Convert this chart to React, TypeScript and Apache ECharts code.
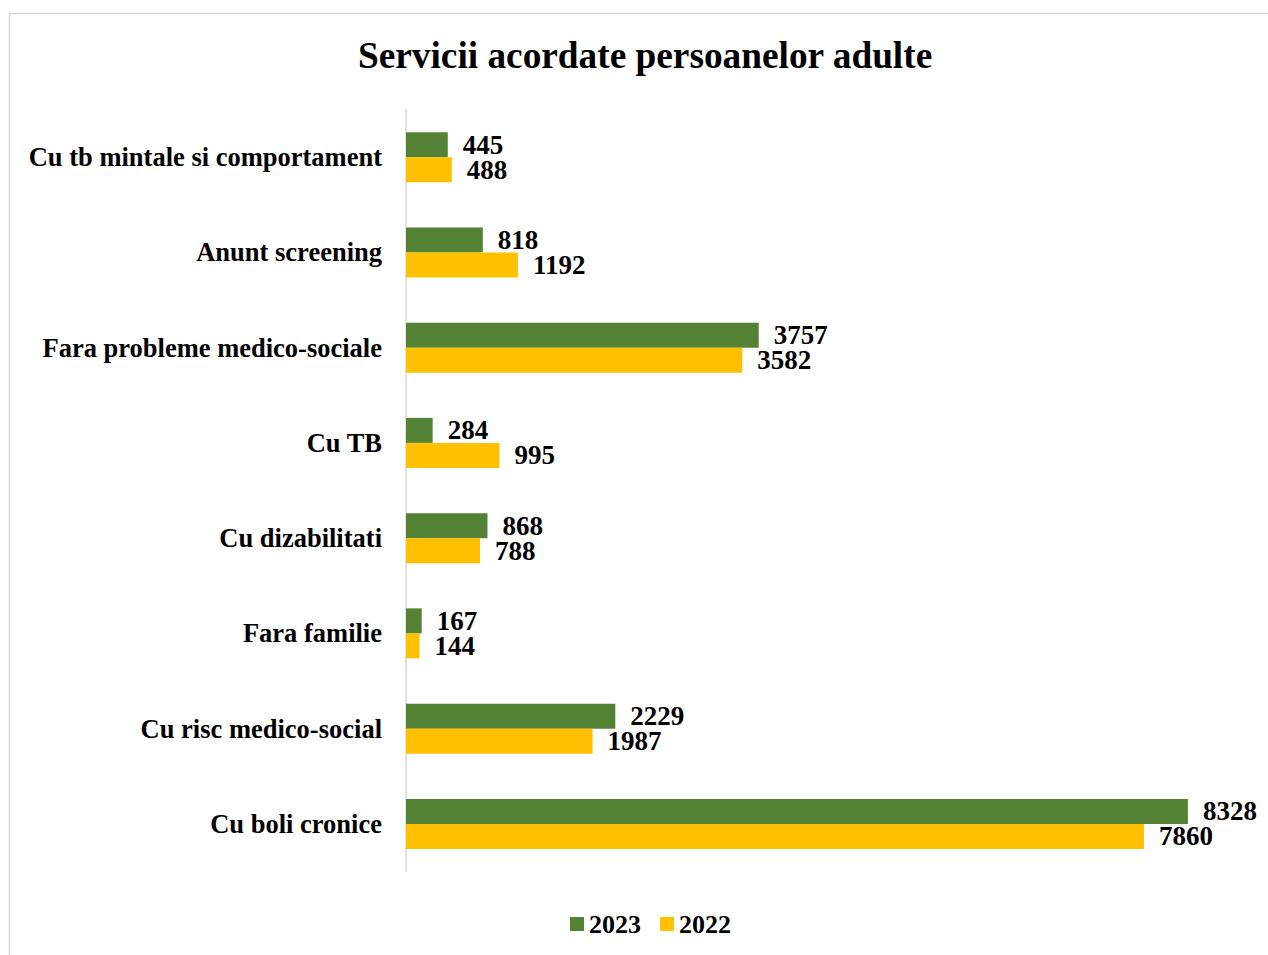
import React, { useEffect, useRef } from "react";
import * as echarts from "echarts";

const categories = [
  "Cu boli cronice",
  "Cu risc medico-social",
  "Fara familie",
  "Cu dizabilitati",
  "Cu TB",
  "Fara probleme medico-sociale",
  "Anunt screening",
  "Cu tb mintale si comportament",
];
const values2023 = [8328, 2229, 167, 868, 284, 3757, 818, 445];
const values2022 = [7860, 1987, 144, 788, 995, 3582, 1192, 488];
const seriesNames = ["2023", "2022"];

const FONT = "'Liberation Serif', 'Times New Roman', serif";

export default function App() {
  const ref = useRef<HTMLDivElement>(null);
  useEffect(() => {
    document.body.style.margin = "0";
    const chart = echarts.init(ref.current!, null, { renderer: "svg" });
    const label = {
      show: true,
      position: "right",
      distance: 15,
      fontFamily: FONT,
      fontWeight: "bold",
      fontSize: 27,
      color: "#000",
    };
    chart.setOption({
      animation: false,
      backgroundColor: "#fff",
      title: {
        text: "Servicii acordate persoanelor adulte",
        left: 353,
        top: 32,
        textStyle: { fontFamily: FONT, fontWeight: "bold", fontSize: 37.3, color: "#000" },
      },
      graphic: [
        {
          type: "rect",
          shape: { x: 9.5, y: 13.5, width: 1400, height: 1100 },
          style: { fill: "none", stroke: "#d9d9d9", lineWidth: 1.5 },
          silent: true,
        },
      ],
      legend: {
        data: seriesNames,
        bottom: 13,
        left: 565,
        itemWidth: 14,
        itemHeight: 14,
        itemGap: 19,
        icon: "rect",
        textStyle: { fontFamily: FONT, fontWeight: "bold", fontSize: 26, color: "#000", padding: [0, 0, 0, 0] },
      },
      grid: { left: 406, top: 109.5, width: 845, height: 762, containLabel: false },
      xAxis: {
        type: "value",
        min: 0,
        max: 9000,
        show: false,
      },
      yAxis: {
        type: "category",
        data: categories,
        axisLine: { show: true, lineStyle: { color: "#d9d9d9", width: 1.5 } },
        axisTick: { show: false },
        axisLabel: { fontFamily: FONT, fontWeight: "bold", fontSize: 26.5, color: "#000", margin: 24 },
      },
      series: [
        {
          name: "2023",
          type: "bar",
          data: values2023,
          barWidth: 25,
          barGap: "0%",
          itemStyle: { color: "#548235" },
          label,
        },
        {
          name: "2022",
          type: "bar",
          data: values2022,
          barWidth: 25,
          barGap: "0%",
          itemStyle: { color: "#FFC000" },
          label,
        },
      ],
    });
    return () => chart.dispose();
  }, []);
  return <div ref={ref} style={{ width: 1268, height: 955 }} />;
}
